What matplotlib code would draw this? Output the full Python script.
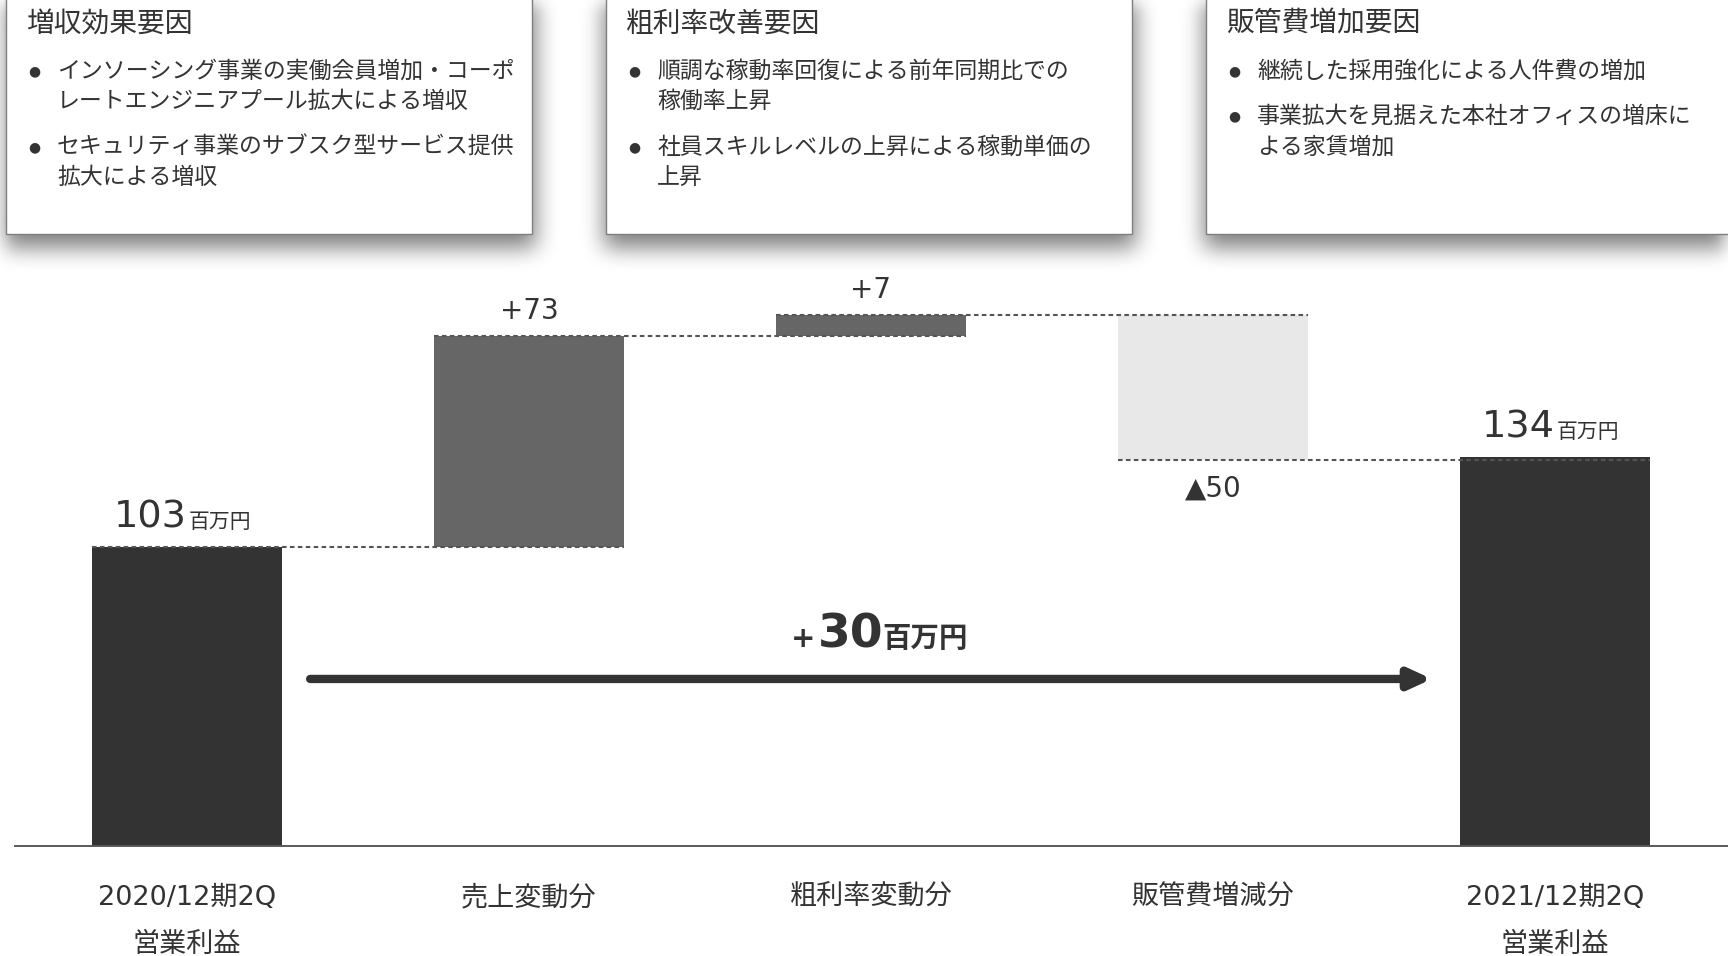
import numpy as np
import matplotlib
matplotlib.use('Agg')
import matplotlib.pyplot as plt
from matplotlib.patches import Rectangle

plt.rcParams['font.family'] = ['Noto Sans CJK JP', 'DejaVu Sans']
NUM_FONT = ['DejaVu Sans', 'Noto Sans CJK JP']

# data (百万円)
categories = [['2020/12期2Q', '営業利益'], ['売上変動分'], ['粗利率変動分'], ['販管費増減分'], ['2021/12期2Q', '営業利益']]
start_value = 103
deltas = [73, 7, -50]
end_value = 134
delta_labels = ['+73', '+7', '▲50']
total_change = 30

box_titles = ['増収効果要因', '粗利率改善要因', '販管費増加要因']
box_items = [
    [['インソーシング事業の実働会員増加・コーポ', 'レートエンジニアプール拡大による増収'],
     ['セキュリティ事業のサブスク型サービス提供', '拡大による増収']],
    [['順調な稼動率回復による前年同期比での', '稼働率上昇'],
     ['社員スキルレベルの上昇による稼動単価の', '上昇']],
    [['継続した採用強化による人件費の増加'],
     ['事業拡大を見据えた本社オフィスの増床に', 'よる家賃増加']],
]

W, H = 1728, 956
TXT = '#333333'

fig = plt.figure(figsize=(W / 100, H / 100), dpi=100)
fig.patch.set_facecolor('white')


def fx(px):
    return px / W


def fy(py):
    return 1 - py / H


# explanation boxes (pixel layout)
box_x = [(6, 532), (606, 1132), (1206, 1760)]
box_bottom = 234

# blurred drop shadow under the boxes
mask = np.zeros((H, W))
for x0, x1 in box_x:
    mask[0:box_bottom + 14, max(x0 - 2, 0):min(x1 + 4, W)] = 1.0


def blur(a, r):
    k = np.ones(2 * r + 1) / (2 * r + 1)
    a = np.apply_along_axis(lambda m: np.convolve(m, k, mode='same'), 0, a)
    a = np.apply_along_axis(lambda m: np.convolve(m, k, mode='same'), 1, a)
    return a


mask = blur(blur(blur(mask, 10), 10), 10)
shadow = np.zeros((H, W, 4))
shadow[..., 3] = mask * 0.5
fig.figimage(shadow, xo=0, yo=0, origin='upper', zorder=0)

for (x0, x1), title, items in zip(box_x, box_titles, box_items):
    fig.add_artist(Rectangle((fx(x0), fy(box_bottom)), (x1 - x0) / W, (box_bottom + 60) / H,
                             transform=fig.transFigure, facecolor='white',
                             edgecolor='#7f7f7f', lw=1.0, zorder=1))
    fig.text(fx(x0 + 20), fy(24), title, fontsize=20, color=TXT, va='center', zorder=2)
    y = 71
    for para in items:
        fig.text(fx(x0 + 28), fy(y), '●', fontsize=10, color=TXT, va='center', ha='center',
                 family=NUM_FONT, zorder=2)
        for line in para:
            fig.text(fx(x0 + 51), fy(y), line, fontsize=16.5, color=TXT, va='center', zorder=2)
            y += 30.5
        y += 15

# waterfall
ax = fig.add_axes([fx(15), 1 - 846 / H, (W - 15) / W, 580 / H])
ax.set_xlim(-0.503, 4.506)
ax.set_ylim(0, 200)
for s in ['top', 'right', 'left']:
    ax.spines[s].set_visible(False)
ax.spines['bottom'].set_color('#595959')
ax.spines['bottom'].set_linewidth(1.4)
ax.set_xticks([])
ax.set_yticks([])
ax.patch.set_alpha(0)

x = np.arange(5)
levels = np.cumsum([start_value] + deltas)
bottoms = [0] + [min(levels[i], levels[i + 1]) for i in range(3)] + [0]
heights = [start_value] + [abs(d) for d in deltas] + [end_value]
colors = ['#333333', '#666666', '#666666', '#e8e8e8', '#333333']
bw = 0.555
ax.bar(x, heights, bottom=bottoms, width=bw, color=colors, zorder=2)

# dashed connectors
for i, lv in enumerate(levels):
    ax.plot([x[i] - bw / 2, x[i + 1] + bw / 2], [lv, lv], color='#555555',
            lw=1.5, dashes=(2.2, 1.6), zorder=3)

# totals
for xi, val in [(0, start_value), (4, end_value)]:
    ax.annotate(str(val), (xi, val), xytext=(0, 14), textcoords='offset points',
                ha='right', va='baseline', fontsize=27.5, color=TXT, family=NUM_FONT)
    ax.annotate('百万円', (xi, val), xytext=(1, 14), textcoords='offset points',
                ha='left', va='baseline', fontsize=15, color=TXT)

# delta labels
for i, (d, lab) in enumerate(zip(deltas, delta_labels)):
    top = bottoms[i + 1] + heights[i + 1]
    if d > 0:
        ax.annotate(lab, (x[i + 1], top), xytext=(0, 18), textcoords='offset points',
                    ha='center', va='center', fontsize=20, color=TXT, family=NUM_FONT)
    else:
        ax.annotate(lab, (x[i + 1], bottoms[i + 1]), xytext=(0, -20), textcoords='offset points',
                    ha='center', va='center', fontsize=20, color=TXT, family=NUM_FONT)

# category labels
for xi, lines in zip(x, categories):
    for j, line in enumerate(lines):
        ax.annotate(line, (xi, 0), xytext=(0, -37.5 - 33.5 * j), textcoords='offset points',
                    ha='center', va='center', fontsize=19.5, color=TXT,
                    family=NUM_FONT, annotation_clip=False)

# overall change arrow
ax.annotate('', xy=(3.64, 57.6), xytext=(0.36, 57.6),
            arrowprops=dict(arrowstyle='-|>,head_length=1.3,head_width=0.6', color='#333333',
                            lw=6, capstyle='round', shrinkA=0, shrinkB=0), zorder=3)
ax.annotate(str(total_change), (1.94, 57.6), xytext=(0, 23), textcoords='offset points',
            ha='center', va='baseline', fontsize=34, fontweight='bold', color=TXT, family=NUM_FONT)
ax.annotate('+', (1.94, 57.6), xytext=(-25, 23), textcoords='offset points',
            ha='right', va='baseline', fontsize=21, fontweight='bold', color=TXT, family=NUM_FONT)
ax.annotate('百万円', (1.94, 57.6), xytext=(23, 23), textcoords='offset points',
            ha='left', va='baseline', fontsize=20.5, fontweight='bold', color=TXT)

fig.savefig('out.png', dpi=100, facecolor='white')
